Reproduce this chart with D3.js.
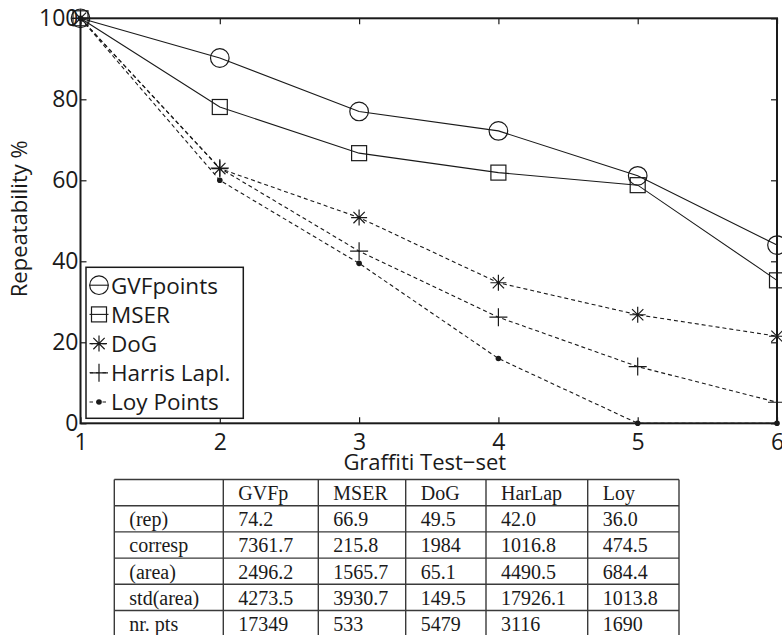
<!DOCTYPE html>
<html>
<head>
<meta charset="utf-8">
<script src="https://cdn.jsdelivr.net/npm/d3@7"></script>
<style>
  html, body { margin: 0; padding: 0; background: #fff; }
  svg { display: block; }
</style>
</head>
<body>
<svg id="chart" width="782" height="635"></svg>
<script>
// Test-set index along the x axis
const testSets = [1, 2, 3, 4, 5, 6];
const xTicks = [1, 2, 3, 4, 5, 6];
const yTicks = [0, 20, 40, 60, 80, 100];

// Repeatability (%) per detector
const gvfPoints = [100, 90.2, 77.0, 72.2, 61.1, 44.0];
const mser      = [100, 78.1, 66.7, 61.9, 58.8, 35.3];
const dog       = [100, 62.9, 50.8, 34.7, 26.8, 21.5];
const harris    = [100, 63.0, 42.5, 26.2, 14.0, 5.2];
const loy       = [100, 60.0, 39.5, 16.0, 0, 0];

const seriesNames = ["GVFpoints", "MSER", "DoG", "Harris Lapl.", "Loy Points"];

// Summary table
const tableHeader = ["", "GVFp", "MSER", "DoG", "HarLap", "Loy"];
const tableRowLabels = ["(rep)", "corresp", "(area)", "std(area)", "nr. pts"];
const tableGVFp   = ["74.2", "7361.7", "2496.2", "4273.5", "17349"];
const tableMSER   = ["66.9", "215.8", "1565.7", "3930.7", "533"];
const tableDoG    = ["49.5", "1984", "65.1", "149.5", "5479"];
const tableHarLap = ["42.0", "1016.8", "4490.5", "17926.1", "3116"];
const tableLoy    = ["36.0", "474.5", "684.4", "1013.8", "1690"];

const svg = d3.select("#chart");
const sans = "'Open Sans', 'DejaVu Sans', sans-serif";
const serif = "'Liberation Serif', 'DejaVu Serif', serif";
const ink = "#1a1a1a";

const plot = { left: 80.5, right: 777, top: 18.3, bottom: 423.3 };
const x = d3.scaleLinear().domain([1, 6]).range([plot.left, plot.right]);
const y = d3.scaleLinear().domain([0, 100]).range([plot.bottom, plot.top]);

// ---- axes with inward ticks on all four sides ----
const tickLen = 6;
function styleAxis(g) {
  g.select(".domain").remove();
  g.selectAll(".tick line").attr("stroke", ink).attr("stroke-width", 1.2);
  g.selectAll(".tick text").attr("fill", ink).style("font-family", sans).style("font-size", "23px");
}
svg.append("g")
  .attr("transform", `translate(0,${plot.bottom})`)
  .call(d3.axisBottom(x).tickValues(xTicks).tickFormat(d3.format("d")).tickSizeInner(-tickLen).tickSizeOuter(0).tickPadding(10))
  .call(styleAxis)
  .call(g => g.selectAll(".tick text").attr("dy", "0.72em"));
svg.append("g")
  .attr("transform", `translate(0,${plot.top})`)
  .call(d3.axisTop(x).tickValues(xTicks).tickFormat("").tickSizeInner(-tickLen).tickSizeOuter(0))
  .call(styleAxis);
svg.append("g")
  .attr("transform", `translate(${plot.left},0)`)
  .call(d3.axisLeft(y).tickValues(yTicks).tickFormat(d3.format("d")).tickSizeInner(-tickLen).tickSizeOuter(0).tickPadding(2))
  .call(styleAxis);
svg.append("g")
  .attr("transform", `translate(${plot.right},0)`)
  .call(d3.axisRight(y).tickValues(yTicks).tickFormat("").tickSizeInner(-tickLen).tickSizeOuter(0))
  .call(styleAxis);

// frame
svg.append("rect")
  .attr("x", plot.left).attr("y", plot.top)
  .attr("width", plot.right - plot.left).attr("height", plot.bottom - plot.top)
  .attr("fill", "none").attr("stroke", ink).attr("stroke-width", 2);

// axis titles
svg.append("text")
  .attr("x", (plot.left + plot.right) / 2 - 4).attr("y", 470)
  .attr("text-anchor", "middle").attr("fill", ink)
  .style("font-family", sans).style("font-size", "22px")
  .text("Graffiti Test\u2212set");
svg.append("text")
  .attr("transform", `translate(27,${(plot.top + plot.bottom) / 2 - 2}) rotate(-90)`)
  .attr("text-anchor", "middle").attr("fill", ink)
  .style("font-family", sans).style("font-size", "22px")
  .text("Repeatability %");

// ---- marker shapes ----
function drawMarker(g, type) {
  const common = sel => sel.attr("fill", "none").attr("stroke", ink).attr("stroke-width", 1.2);
  if (type === "circle") {
    g.append("circle").attr("r", 9.3).call(common);
  } else if (type === "square") {
    g.append("rect").attr("x", -7.5).attr("y", -7.5).attr("width", 15).attr("height", 15).call(common);
  } else if (type === "star") {
    const r = 8, d = r * Math.SQRT1_2;
    g.append("path").attr("d", `M${-r},0H${r}M0,${-r}V${r}M${-d},${-d}L${d},${d}M${-d},${d}L${d},${-d}`).call(common);
  } else if (type === "plus") {
    const r = 9;
    g.append("path").attr("d", `M${-r},0H${r}M0,${-r}V${r}`).call(common);
  } else if (type === "dot") {
    g.append("circle").attr("r", 2.8).attr("fill", ink).attr("stroke", "none");
  }
}

const series = [
  { name: seriesNames[0], values: gvfPoints, marker: "circle", dash: null },
  { name: seriesNames[1], values: mser,      marker: "square", dash: null },
  { name: seriesNames[2], values: dog,       marker: "star",   dash: "4,3" },
  { name: seriesNames[3], values: harris,    marker: "plus",   dash: "4,3" },
  { name: seriesNames[4], values: loy,       marker: "dot",    dash: "4,3" }
];

const line = d3.line().x((d, i) => x(testSets[i])).y(d => y(d));

const lines = svg.append("g");
series.forEach(s => {
  lines.append("path")
    .datum(s.values)
    .attr("d", line)
    .attr("fill", "none")
    .attr("stroke", ink)
    .attr("stroke-width", 1.1)
    .attr("stroke-dasharray", s.dash);
  lines.selectAll(null)
    .data(s.values)
    .join("g")
    .attr("transform", (d, i) => `translate(${x(testSets[i])},${y(d)})`)
    .each(function () { drawMarker(d3.select(this), s.marker); });
});

// ---- legend ----
const legend = svg.append("g");
legend.append("rect")
  .attr("x", 86).attr("y", 267.3).attr("width", 157.3).attr("height", 151)
  .attr("fill", "#fff").attr("stroke", ink).attr("stroke-width", 1.5);
series.forEach((s, i) => {
  const base = 293.5 + i * 29.2;
  const cy = base - 8.3;
  const g = legend.append("g");
  g.append("line")
    .attr("x1", 89.5).attr("x2", 108.5).attr("y1", cy).attr("y2", cy)
    .attr("stroke", ink).attr("stroke-width", 1.1)
    .attr("stroke-dasharray", s.dash ? "3.5,3" : null);
  const m = g.append("g").attr("transform", `translate(99,${cy})`);
  drawMarker(m, s.marker);
  g.append("text")
    .attr("x", 111).attr("y", base)
    .attr("fill", ink)
    .style("font-family", sans).style("font-size", "22.5px")
    .text(s.name);
});

// ---- summary table ----
const colEdges = [114.3, 223.3, 318.3, 405.7, 486, 587.7, 679];
const rowTop = 479.5, rowH = 26.2;
const tableCols = [tableRowLabels, tableGVFp, tableMSER, tableDoG, tableHarLap, tableLoy];
const nRows = tableRowLabels.length + 1;
const table = svg.append("g");
const gridColor = "#3a3a3a";
for (let r = 0; r <= nRows; r++) {
  table.append("line")
    .attr("x1", colEdges[0]).attr("x2", colEdges[colEdges.length - 1])
    .attr("y1", rowTop + r * rowH).attr("y2", rowTop + r * rowH)
    .attr("stroke", gridColor).attr("stroke-width", 1.4);
}
colEdges.forEach(cx => {
  table.append("line")
    .attr("x1", cx).attr("x2", cx)
    .attr("y1", rowTop).attr("y2", rowTop + nRows * rowH)
    .attr("stroke", gridColor).attr("stroke-width", 1.4);
});
tableHeader.forEach((h, c) => {
  table.append("text")
    .attr("x", colEdges[c] + 15).attr("y", rowTop + 20.5)
    .attr("fill", ink)
    .style("font-family", serif).style("font-size", "20px")
    .text(h);
});
tableCols.forEach((col, c) => {
  col.forEach((v, r) => {
    table.append("text")
      .attr("x", colEdges[c] + 15).attr("y", rowTop + (r + 1) * rowH + 20.5)
      .attr("fill", ink)
      .style("font-family", serif).style("font-size", "20px")
      .text(v);
  });
});
</script>
</body>
</html>
